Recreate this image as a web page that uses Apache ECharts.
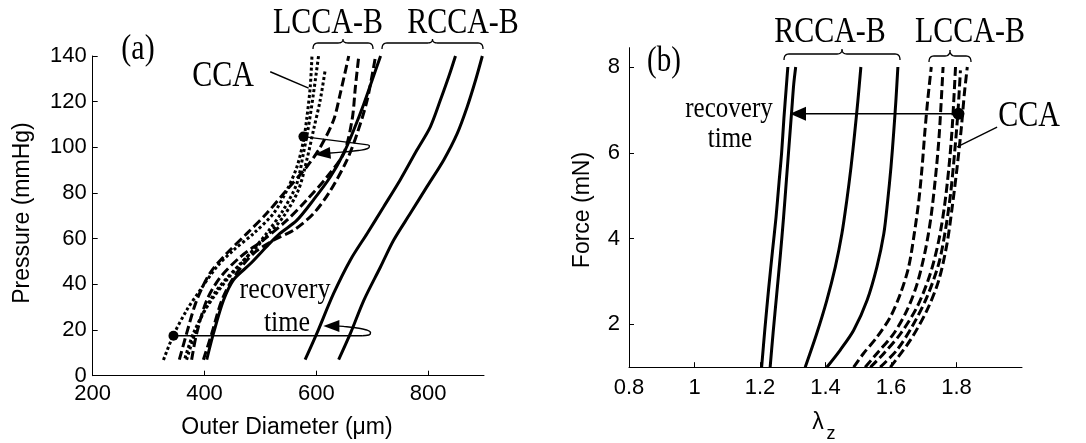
<!DOCTYPE html>
<html><head><meta charset="utf-8">
<script src="https://cdn.jsdelivr.net/npm/echarts@6/dist/echarts.min.js"></script>
<style>html,body{margin:0;padding:0;background:#fff}#c{width:1086px;height:443px}</style>
</head><body><div id="c"></div>
<script>
// ---- tick labels ----
const leftXTicks = [200, 400, 600, 800];
const leftYTicks = [0, 20, 40, 60, 80, 100, 120, 140];
const rightXTicks = [0.8, 1, 1.2, 1.4, 1.6, 1.8];
const rightYTicks = [2, 4, 6, 8];

// ---- panel (a): pressure vs outer diameter ----
const aCCA1 = [[326.6,6.9],[344.5,17.8],[368.4,28.8],[392.2,37.5],[422.1,47.7],[451.9,55.0],[487.8,62.3],[523.6,71.1],[547.5,81.3],[565.4,91.5],[577.3,103.2],[583.3,113.4],[589.2,126.6],[592.2,139.7]];
const aCCA2 = [[365,7.6],[380,18.5],[404,30],[440,42],[476,52],[511,62.3],[541,72.6],[565,84],[577,97.4],[586,109],[595,123.7],[604,140]];
const aCCA3 = [[368,7],[392,24.4],[422,37.5],[464,49],[505,59.4],[541,69.6],[568,81.3],[583,94.5],[595,107.6],[607,120.7],[616,134]];
const aLCCA1 = [[355,7],[368,18.5],[386,33],[410,45],[440,53.6],[476,62.3],[511,71],[547,81.3],[583,91.5],[607,100],[631,112],[643,123.7],[658,140]];
const aLCCA2 = [[377,7],[386,18.5],[404,33],[428,43],[464,52],[505,59.4],[547,68],[583,77],[619,87],[649,97.4],[664,112],[670,126.6],[676,140]];
const aLCCA3 = [[398,7],[413,18.5],[431,33],[452,43],[488,53.6],[524,59.4],[560,63.8],[595,71],[625,81],[655,94.5],[673,106],[691,120.7],[706,140]];
const aRCCA1 = [[404,7],[416,18.5],[434,33],[452,42],[482,49],[511,56.5],[535,62.3],[565,68],[595,77],[625,87],[649,97.4],[667,107.6],[685,119],[700,129.5],[715,140]];
const aRCCA2 = [[580,7],[601,18.5],[631,36],[661,50.7],[691,62.3],[720.6,74],[750,85.7],[780,98.8],[804,109],[822,120.7],[837,131],[849,140]];
const aRCCA3 = [[640,7],[661,18.5],[685,33],[715,47.7],[738.5,59.4],[768,71],[798,82.8],[828,94.5],[852,106],[870,117.8],[885,129.5],[897,140]];

// ---- panel (b): force vs lambda_z ----
const bRCCA1 = [[1.205,1.0],[1.215,1.9],[1.226,2.8],[1.238,3.7],[1.249,4.5],[1.258,5.3],[1.266,6.0],[1.273,6.8],[1.28,7.5],[1.285,8.0]];
const bRCCA2 = [[1.231,1.0],[1.24,1.8],[1.251,2.7],[1.262,3.6],[1.272,4.5],[1.281,5.4],[1.289,6.2],[1.297,7.0],[1.303,7.6],[1.309,8.0]];
const bRCCA3 = [[1.338,1.0],[1.373,1.78],[1.404,2.56],[1.43,3.34],[1.45,4.11],[1.465,4.89],[1.478,5.67],[1.489,6.45],[1.499,7.22],[1.508,8.0]];
const bRCCA4 = [[1.404,1.0],[1.445,1.4],[1.486,1.86],[1.527,2.56],[1.557,3.34],[1.578,4.11],[1.59,4.89],[1.6,5.67],[1.608,6.45],[1.615,7.22],[1.621,8.0]];
const bLCCA1 = [[1.486,1.0],[1.516,1.32],[1.557,1.7],[1.598,2.17],[1.629,2.72],[1.654,3.34],[1.671,4.11],[1.685,4.89],[1.695,5.67],[1.703,6.45],[1.712,7.22],[1.723,8.0]];
const bLCCA2 = [[1.521,1.0],[1.557,1.32],[1.608,1.78],[1.649,2.33],[1.68,2.95],[1.705,3.73],[1.722,4.5],[1.736,5.44],[1.746,6.29],[1.753,7.15],[1.759,8.0]];
const bLCCA3 = [[1.537,1.0],[1.578,1.32],[1.629,1.78],[1.68,2.41],[1.72,3.18],[1.746,3.96],[1.763,4.74],[1.777,5.67],[1.787,6.6],[1.797,8.0]];
const bCCA1 = [[1.567,1.0],[1.618,1.4],[1.664,1.94],[1.71,2.64],[1.746,3.42],[1.766,4.19],[1.782,5.05],[1.794,5.98],[1.804,6.91],[1.812,7.92]];
const bCCA2 = [[1.598,1.0],[1.659,1.63],[1.71,2.33],[1.746,3.03],[1.771,3.88],[1.787,4.74],[1.802,5.67],[1.815,6.6],[1.824,7.38],[1.833,8.0]];

// ---- annotations (data coordinates) ----
const aArrowLowLine = [[344.5,17.5],[682,17.5]];
const aArrowLowLoop = [[682,17.5],[694,17.8],[697,18.8],[690,20.0],[670,21.0],[648,21.6],[634,21.8]];
const aArrowLowHead = [[627,21.8]];
const aArrowHighLine = [[577,104.7],[689,101.2]];
const aArrowHighLoop = [[689,101.2],[695,100.6],[692,99.5],[675,98.6],[650,98.0],[620,97.4]];
const aArrowHighHead = [[611,97.2]];
const aDots = [[344.5,17.5],[577,104.7]];
const aPointerCCA = [[517.6,133.1],[586.3,125.9]];
const bArrowLine = [[1.806,6.91],[1.33,6.91]];
const bArrowHead = [[1.316,6.91]];
const bDots = [[1.806,6.91]];
const bPointerCCA = [[1.924,6.6],[1.802,6.14]];

const DOT = [3, 2.5], DASH = [9, 4];
function ln(data, g, type, w, smooth) {
  return { type: 'line', xAxisIndex: g, yAxisIndex: g, data: data, showSymbol: false, symbol: 'none',
    smooth: smooth || false, silent: true, animation: false,
    lineStyle: { color: '#000', width: w, type: type, cap: 'butt', join: 'round' } };
}
function pts(data, g, symbol, size, rot) {
  return { type: 'scatter', xAxisIndex: g, yAxisIndex: g, data: data, symbol: symbol, symbolSize: size,
    symbolRotate: rot || 0, silent: true, animation: false, itemStyle: { color: '#000', opacity: 1 }, clip: false, z: 5 };
}
const tickFont = { fontFamily: 'Liberation Sans', fontSize: 22, color: '#000' };
function axis(min, max, ticks, margin) {
  return { type: 'value', min: min, max: max, scale: false,
    axisLine: { show: true, lineStyle: { color: '#000', width: 1 } },
    axisTick: { show: true, inside: true, length: 5, customValues: ticks, lineStyle: { color: '#000' } },
    axisLabel: Object.assign({ show: true, margin: margin, customValues: ticks,
      formatter: function (v) { return String(Math.round(v * 100) / 100); } }, tickFont),
    splitLine: { show: false } };
}

const W = 3, S = 0.3;
const series = [
  ln(aCCA1, 0, DOT, W, S), ln(aCCA2, 0, DOT, W, S), ln(aCCA3, 0, DOT, W, S),
  ln(aLCCA1, 0, DASH, W, S), ln(aLCCA2, 0, DASH, W, S), ln(aLCCA3, 0, DASH, W, S),
  ln(aRCCA1, 0, 'solid', W, S), ln(aRCCA2, 0, 'solid', W, S), ln(aRCCA3, 0, 'solid', W, S),
  ln(aArrowLowLine, 0, 'solid', 1.4), ln(aArrowLowLoop, 0, 'solid', 1.4, 0.5),
  ln(aArrowHighLine, 0, 'solid', 1.4), ln(aArrowHighLoop, 0, 'solid', 1.4, 0.5),
  ln(aPointerCCA, 0, 'solid', 1.4),
  pts(aArrowLowHead, 0, 'triangle', [12, 16], 90),
  pts(aArrowHighHead, 0, 'triangle', [12, 16], 96),
  pts(aDots, 0, 'circle', 10),
  ln(bRCCA1, 1, 'solid', W, S), ln(bRCCA2, 1, 'solid', W, S), ln(bRCCA3, 1, 'solid', W, S), ln(bRCCA4, 1, 'solid', W, S),
  ln(bLCCA1, 1, DASH, W, S), ln(bLCCA2, 1, DASH, W, S), ln(bLCCA3, 1, DASH, W, S),
  ln(bCCA1, 1, DASH, W, S), ln(bCCA2, 1, DASH, W, S),
  ln(bArrowLine, 1, 'solid', 1.4), ln(bPointerCCA, 1, 'solid', 1.4),
  pts(bArrowHead, 1, 'triangle', [14, 16], 90),
  pts(bDots, 1, 'circle', 12)
];

function quad(p0, p1, p2, out) {
  for (let i = 0; i <= 8; i++) {
    const t = i / 8, a = (1 - t) * (1 - t), b = 2 * (1 - t) * t, c = t * t;
    out.push([a * p0[0] + b * p1[0] + c * p2[0], a * p0[1] + b * p1[1] + c * p2[1]]);
  }
}
function brace(x0, x1, yb, ym, yp) {
  const m = (x0 + x1) / 2, r = 5, p = [];
  quad([x0, yb], [x0, ym], [x0 + r, ym], p);
  quad([m - r, ym], [m, ym], [m, yp], p);
  quad([m, yp], [m, ym], [m + r, ym], p);
  quad([x1 - r, ym], [x1, ym], [x1, yb], p);
  return { type: 'polyline', shape: { points: p }, style: { stroke: '#000', fill: null, lineWidth: 1.3 }, silent: true };
}
function txt(s, x, y, size, family, rot, sy) {
  return { type: 'text', x: x, y: y, rotation: rot || 0, scaleY: sy || 1, silent: true,
    style: { text: s, fontSize: size, fontFamily: family, fill: '#000',
      align: 'center', verticalAlign: 'middle', textAlign: 'center', textVerticalAlign: 'middle' } };
}
const SERIF = 'Liberation Serif', SANS = 'Liberation Sans';
const graphics = [
  brace(313, 373, 49, 43, 39), brace(382, 483, 49, 43, 39),
  brace(784, 900, 60, 54, 49), brace(929, 971, 62, 56, 50),
  txt('(a)', 138, 50, 30, SERIF, 0, 1.2),
  txt('CCA', 223, 77, 30, SERIF, 0, 1.2),
  txt('LCCA-B', 328, 24, 30, SERIF, 0, 1.2),
  txt('RCCA-B', 463, 24, 30, SERIF, 0, 1.2),
  txt('recovery', 285, 290, 26, SERIF, 0, 1.15),
  txt('time', 287, 323, 26, SERIF, 0, 1.15),
  txt('(b)', 664, 62, 29, SERIF, 0, 1.2),
  txt('RCCA-B', 830, 33, 30, SERIF, 0, 1.2),
  txt('LCCA-B', 970, 33, 30, SERIF, 0, 1.2),
  txt('recovery', 729, 109, 25, SERIF, 0, 1.15),
  txt('time', 730, 139, 25, SERIF, 0, 1.15),
  txt('CCA', 1029, 117, 30, SERIF, 0, 1.2),
  txt('Pressure (mmHg)', 23, 213, 23, SANS, Math.PI / 2),
  txt('Outer Diameter (\u03bcm)', 287, 428, 23, SANS),
  txt('Force (mN)', 583, 210, 23, SANS, Math.PI / 2),
  txt('\u03bb', 818, 423, 23, SANS),
  txt('z', 831, 434, 18, SANS)
];

const chart = echarts.init(document.getElementById('c'), null, { renderer: 'canvas' });
chart.setOption({
  backgroundColor: '#fff',
  animation: false,
  grid: [
    { left: 92.7, top: 56, width: 391.3, height: 319.7, containLabel: false },
    { left: 629, top: 47.7, width: 393, height: 319.5, containLabel: false }
  ],
  xAxis: [
    Object.assign(axis(200, 900, leftXTicks, 7), { gridIndex: 0 }),
    Object.assign(axis(0.8, 2.0, rightXTicks, 10), { gridIndex: 1 })
  ],
  yAxis: [
    Object.assign(axis(0, 140, leftYTicks, 6), { gridIndex: 0 }),
    Object.assign(axis(1, 8.45, rightYTicks, 9), { gridIndex: 1 })
  ],
  series: series,
  graphic: { elements: graphics }
});
</script></body></html>
